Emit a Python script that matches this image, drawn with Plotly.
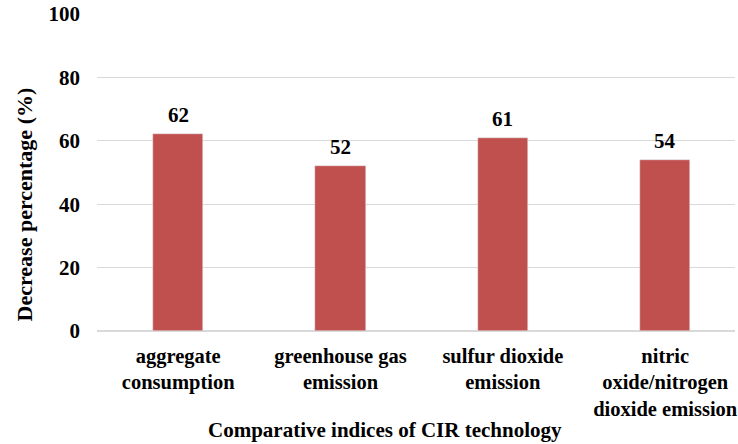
import plotly.graph_objects as go

categories = ["aggregate<br>consumption", "greenhouse gas<br>emission", "sulfur dioxide<br>emission", "nitric<br>oxide/nitrogen<br>dioxide emission"]
values = [62, 52, 61, 54]
y_ticks = [0, 20, 40, 60, 80, 100]

FONT = "Liberation Serif"
bar_color = "#c0504d"

fig = go.Figure()
fig.add_trace(go.Bar(x=categories, y=values, marker_color=bar_color, width=0.31))

for c, v in zip(categories, values):
    fig.add_annotation(x=c, y=v, text=f"<b>{v}</b>", showarrow=False, yanchor="bottom",
                       yshift=5, font=dict(family=FONT, size=21, color="#000"))

fig.add_annotation(xref="paper", yref="paper", x=0.452, y=-0.313, text="<b>Comparative indices of CIR technology</b>",
                   showarrow=False, xanchor="center", yanchor="middle",
                   font=dict(family=FONT, size=21, color="#000"))

fig.add_annotation(xref="paper", yref="paper", x=-0.114, y=0.40, text="<b>Decrease percentage (%)</b>",
                   showarrow=False, xanchor="center", yanchor="middle", textangle=-90,
                   font=dict(family=FONT, size=22, color="#000"))

fig.update_layout(
    width=738, height=444,
    margin=dict(l=97, r=0, t=14, b=113),
    plot_bgcolor="white", paper_bgcolor="white",
    showlegend=False,
    font=dict(family=FONT, size=20, color="#000"),
    bargap=0,
)
fig.update_xaxes(range=[-0.5, 3.43], tickfont=dict(family=FONT, size=20.5, color="#000"),
                 showgrid=False, showline=False, ticks="", ticklabelstandoff=10,
                 tickvals=categories, ticktext=[f"<b>{c}</b>" for c in categories])
fig.update_yaxes(range=[0, 100], tickvals=y_ticks, ticktext=[f"<b>{t}</b>" for t in y_ticks],
                 showgrid=True, gridcolor="#d9d9d9", gridwidth=1, zeroline=True, zerolinecolor="#d9d9d9",
                 showline=False, ticks="", ticklabelstandoff=16,
                 tickfont=dict(family=FONT, size=21, color="#000"))

fig.write_html("out.html")
